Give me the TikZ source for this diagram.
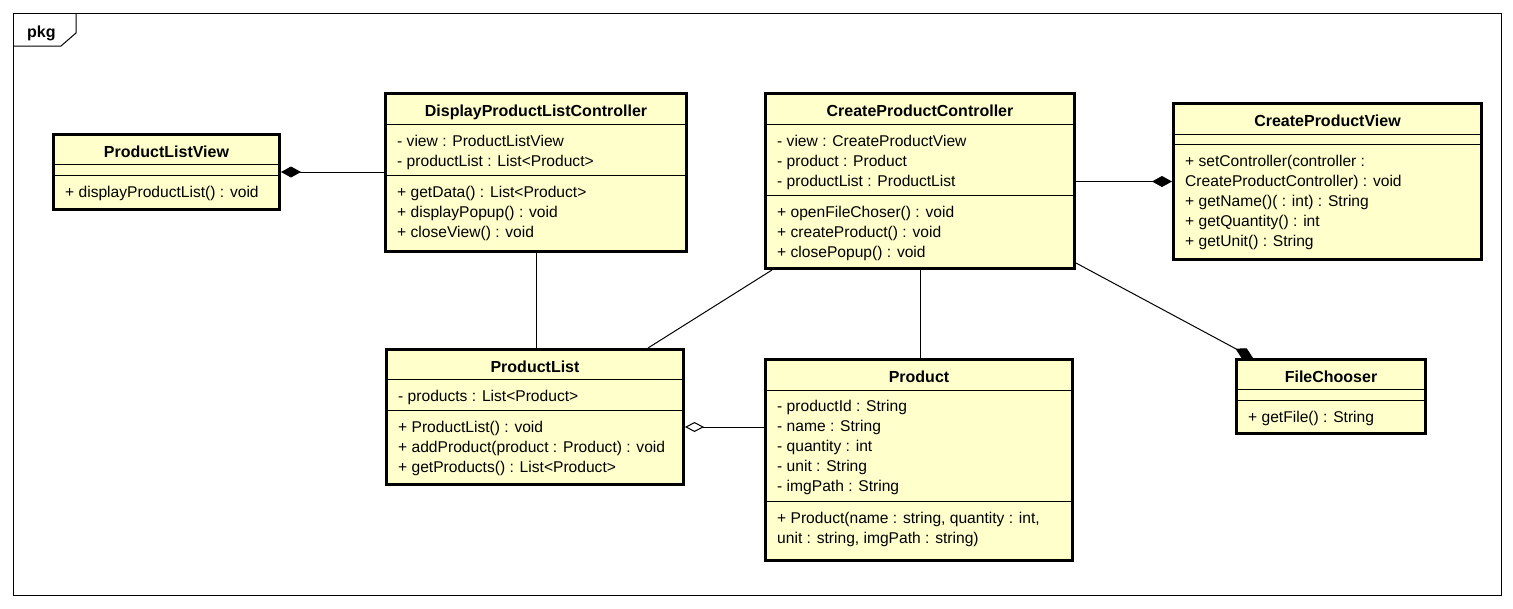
\documentclass[tikz,border=0pt]{standalone}
\usepackage{fontspec}
\setmainfont{Liberation Sans}
\usetikzlibrary{arrows.meta}
\definecolor{clsfill}{RGB}{255,255,204}

\tikzset{
  cls/.style={draw=black, fill=clsfill, line width=3pt, outer sep=1.5pt, inner sep=0pt, anchor=north west},
  sepline/.style={line width=1pt},
  clstitle/.style={font=\fontsize{16}{20}\selectfont\bfseries, inner sep=0pt, anchor=base},
  row/.style={font=\fontsize{15.6}{20}\selectfont, inner sep=0pt, anchor=base west},
  link/.style={line width=1pt},
  comp/.style={link, {Diamond[length=20pt,width=11pt]}-},
  aggr/.style={link, {Diamond[open,fill=white,length=19pt,width=10pt]}-},
}

% class box: name, x, y, width, height, separator offsets, title
\newcommand\umlclass[8]{%
  \node[cls, minimum width=#4, minimum height=#5] (#1) at (#2,#3) {};
  \draw[sepline] ([yshift=-#6]#1.north west) -- ([yshift=-#6]#1.north east);
  \draw[sepline] ([yshift=-#7]#1.north west) -- ([yshift=-#7]#1.north east);
  \node[clstitle] (#1-name) at ([yshift=-24]#1.north) {#8};
}
% compartment rows: class name, tag, first baseline offset, list of lines
\newcommand\umlrows[4]{%
  \foreach \txt [count=\i] in {#4}
    \node[row] (#1-#2\i) at ([xshift=13, yshift={-(#3)-20*(\i-1)}]#1.north west) {\txt};
}

\begin{document}
\begin{tikzpicture}[x=1pt, y=-1pt]
\useasboundingbox (0,0) rectangle (1513,608);

% package frame
\draw[line width=1pt] (13,13) rectangle (1501,595);
\draw[line width=1pt] (13,46) -- (61,46) -- (76,33) -- (76,13);
\node[font=\fontsize{16}{20}\selectfont\bfseries, inner sep=0pt, anchor=base west] (pkg) at (27,37) {pkg};

% classes
\umlclass{plv}{52}{133}{226}{75}{31}{42}{ProductListView}
\umlrows{plv}{m}{64}{{+ displayProductList() : void}}

\umlclass{dplc}{384}{92}{301}{158}{32}{83}{DisplayProductListController}
\umlrows{dplc}{a}{54.5}{{- view : ProductListView},{- productList : List<Product>}}
\umlrows{dplc}{m}{105}{{+ getData() : List<Product>},{+ displayPopup() : void},{+ closeView() : void}}

\umlclass{cpc}{764}{92}{309}{175}{32}{103}{CreateProductController}
\umlrows{cpc}{a}{54.5}{{- view : CreateProductView},{- product : Product},{- productList : ProductList}}
\umlrows{cpc}{m}{125}{{+ openFileChoser() : void},{+ createProduct() : void},{+ closePopup() : void}}

\umlclass{cpv}{1172}{102}{308}{156}{32}{42}{CreateProductView}
\umlrows{cpv}{m}{64}{{+ setController(controller :},{CreateProductController) : void},{+ getName()( : int) : String},{+ getQuantity() : int},{+ getUnit() : String}}

\umlclass{pl}{385}{348}{297}{135}{31}{62}{ProductList}
\umlrows{pl}{a}{53.5}{{- products : List<Product>}}
\umlrows{pl}{m}{84}{{+ ProductList() : void},{+ addProduct(product : Product) : void},{+ getProducts() : List<Product>}}

\umlclass{pd}{764}{358}{307}{201}{32}{143}{Product}
\umlrows{pd}{a}{53.5}{{- productId : String},{- name : String},{- quantity : int},{- unit : String},{- imgPath : String}}
\umlrows{pd}{m}{165}{{+ Product(name : string, quantity : int,},{unit : string, imgPath : string)}}

\umlclass{fc}{1235}{358}{189}{74}{31}{42}{FileChooser}
\umlrows{fc}{m}{64}{{+ getFile() : String}}

% relations
\draw[comp] (plv.east) -- (plv.east -| dplc.west);
\draw[link] (dplc.south) -- (dplc.south |- pl.north);
\draw[link] ([xshift=8]cpc.south west) -- ([xshift=263]pl.north west);
\draw[link] (cpc.south) -- (cpc.south |- pd.north);
\draw[comp] (cpv.west) -- (cpv.west -| cpc.east);
\draw[comp] ([xshift=18]fc.north west) -- ([yshift=7]cpc.south east);
\draw[aggr] ([yshift=-10]pl.east) -- ([yshift=-10]pl.east -| pd.west);
\end{tikzpicture}
\end{document}
